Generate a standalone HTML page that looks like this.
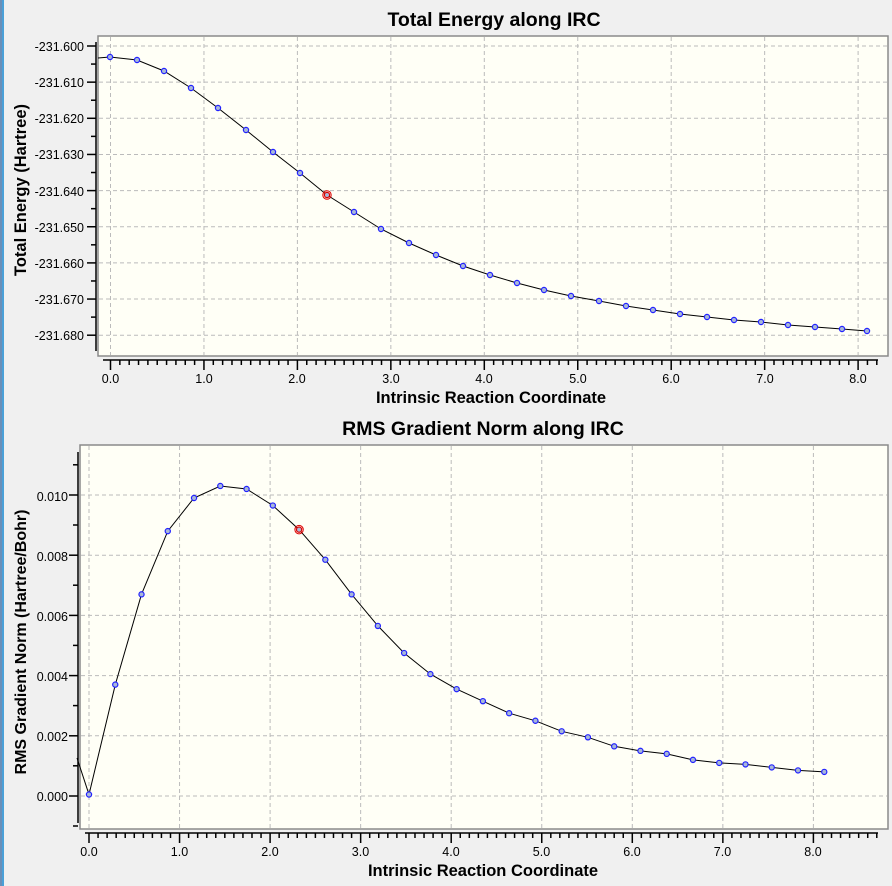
<!DOCTYPE html>
<html><head><meta charset="utf-8"><style>
html,body{margin:0;padding:0;background:#f0f0f0;}
svg{display:block;font-family:"Liberation Sans",sans-serif;}
.t{font-size:12.5px;fill:#000}
.b{font-weight:bold;fill:#000}
</style></head><body>
<svg id="s" width="892" height="886" xmlns="http://www.w3.org/2000/svg">
<rect x="0" y="0" width="892" height="886" fill="#f0f0f0"/>
<rect x="0" y="0" width="2" height="886" fill="#6a8fb8"/>
<rect x="2" y="0" width="2" height="886" fill="#4aa0d8"/>
<rect x="98" y="36" width="790" height="320" fill="#fffff6" stroke="#8a8a8a" stroke-width="1.5"/>
<rect x="80" y="445" width="808" height="384" fill="#fffff6" stroke="#8a8a8a" stroke-width="1.5"/>
<g id="g"></g>
<text x="494" y="26" text-anchor="middle" class="b" font-size="19.5">Total Energy along IRC</text>
<text x="483" y="435" text-anchor="middle" class="b" font-size="19.5">RMS Gradient Norm along IRC</text>
<text x="491" y="403" text-anchor="middle" class="b" font-size="16.5">Intrinsic Reaction Coordinate</text>
<text x="483" y="876" text-anchor="middle" class="b" font-size="16.5">Intrinsic Reaction Coordinate</text>
<text transform="translate(26,190) rotate(-90)" text-anchor="middle" class="b" font-size="16.5">Total Energy (Hartree)</text>
<text transform="translate(26,642) rotate(-90)" text-anchor="middle" class="b" font-size="16">RMS Gradient Norm (Hartree/Bohr)</text>
<g class="t" text-anchor="end">
<text x="84" y="51">-231.600</text><text x="84" y="87">-231.610</text><text x="84" y="123">-231.620</text>
<text x="84" y="159">-231.630</text><text x="84" y="196">-231.640</text><text x="84" y="232">-231.650</text>
<text x="84" y="268">-231.660</text><text x="84" y="304">-231.670</text><text x="84" y="340">-231.680</text>
<text x="68" y="501">0.010</text><text x="68" y="561">0.008</text><text x="68" y="621">0.006</text>
<text x="68" y="681">0.004</text><text x="68" y="741">0.002</text><text x="68" y="801">0.000</text>
</g>
<g class="t" text-anchor="middle">
<text x="110.5" y="383">0.0</text><text x="204" y="383">1.0</text><text x="297" y="383">2.0</text>
<text x="391" y="383">3.0</text><text x="484" y="383">4.0</text><text x="578" y="383">5.0</text>
<text x="671" y="383">6.0</text><text x="765" y="383">7.0</text><text x="858" y="383">8.0</text>
<text x="89" y="856">0.0</text><text x="179.5" y="856">1.0</text><text x="270" y="856">2.0</text>
<text x="360.5" y="856">3.0</text><text x="451" y="856">4.0</text><text x="541.5" y="856">5.0</text>
<text x="632" y="856">6.0</text><text x="722.5" y="856">7.0</text><text x="813" y="856">8.0</text>
</g>
</svg>
<script>
var NS="http://www.w3.org/2000/svg",g=document.getElementById('g');
function el(n,a){var e=document.createElementNS(NS,n);for(var k in a)e.setAttribute(k,a[k]);g.appendChild(e);return e;}
function line(x1,y1,x2,y2,s,w,d){var a={x1:x1,y1:y1,x2:x2,y2:y2,stroke:s,'stroke-width':w||1};if(d)a['stroke-dasharray']=d;el('line',a);}
var tx0=110.5,tdx=93.45;
for(var i=0;i<=8;i++)line(tx0+i*tdx,37,tx0+i*tdx,355,'#bbb',1,'4,3');
for(var i=0;i<9;i++){var y=46+i*36.15;line(99,y,887,y,'#bbb',1,'4,3');}
line(96,42,96,351,'#000',1.5);
for(var i=0;i<9;i++){var y=46+i*36.15;line(87,y,96,y,'#000',1.5);if(i<8)line(91,y+18.07,96,y+18.07,'#000',1.5);}
line(103,360,878,360,'#000',1.5);
for(var i=-1;i<=83;i++){var x=tx0+i*tdx/10;if(x<103||x>878)continue;line(x,360,x,i%10==0?370:365,'#000',1.5);}
var te=[[110,57],[137,60],[164,71],[191,88],[218,108],[246,130],[273,152],[300,173],[327,195],[354,212],[381,229],[409,243],[436,255],[463,266],[490,275],[517,283],[544,290],[571,296],[599,301],[626,306],[653,310],[680,314],[707,317],[734,320],[761,322],[788,325],[815,327],[842,329],[867,331]];
var p="98,58 "+te.map(function(a){return a.join(',')}).join(' ');
el('polyline',{points:p,fill:'none',stroke:'#000','stroke-width':1});
te.forEach(function(a,i){el('circle',{cx:a[0],cy:a[1],r:2.6,fill:'#a8b8d8',stroke:i==8?'#d00':'#22f','stroke-width':1.2});});
el('circle',{cx:327,cy:195,r:4.2,fill:'none',stroke:'#d00','stroke-width':1});
var bx0=89,bdx=90.55;
for(var i=0;i<=8;i++)line(bx0+i*bdx,446,bx0+i*bdx,828,'#bbb',1,'4,3');
for(var i=0;i<6;i++){var y=796-i*60.2;line(81,y,887,y,'#bbb',1,'4,3');}
line(78,452,78,823,'#000',1.5);
for(var i=0;i<6;i++){var y=796-i*60.2;line(69,y,78,y,'#000',1.5);}
for(var i=0;i<=6;i++){var y=826-i*60.2;if(y<452)continue;line(73,y,78,y,'#000',1.5);}
line(85,833,878,833,'#000',1.5);
for(var i=-1;i<=87;i++){var x=bx0+i*bdx/10;if(x<85||x>878)continue;line(x,833,x,i%10==0?843:838,'#000',1.5);}
var gv=[0.05,3.7,6.7,8.8,9.9,10.3,10.2,9.65,8.85,7.85,6.7,5.65,4.75,4.05,3.55,3.15,2.75,2.5,2.15,1.95,1.65,1.5,1.4,1.2,1.1,1.05,0.95,0.85,0.8];
var bp=gv.map(function(v,i){return [bx0+i*0.29*bdx,796-v*30.1];});
el('polyline',{points:"77,758 "+bp.map(function(a){return a[0].toFixed(1)+','+a[1].toFixed(1)}).join(' '),fill:'none',stroke:'#000','stroke-width':1});
bp.forEach(function(a,i){el('circle',{cx:a[0],cy:a[1],r:2.6,fill:'#a8b8d8',stroke:i==8?'#d00':'#22f','stroke-width':1.2});});
el('circle',{cx:bp[8][0],cy:bp[8][1],r:4.2,fill:'none',stroke:'#d00','stroke-width':1});
</script>
</body></html>
